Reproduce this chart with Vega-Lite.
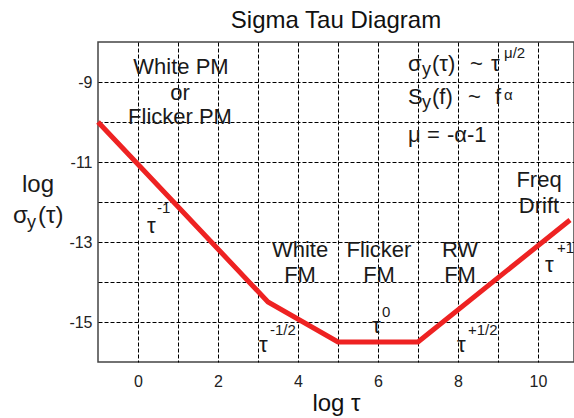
{
  "$schema": "https://vega.github.io/schema/vega-lite/v6.json",
  "width": 476,
  "height": 320,
  "autosize": {"type": "none"},
  "padding": {"left": 98, "top": 42, "right": 0, "bottom": 56},
  "background": "white",
  "title": {"text": "Sigma Tau Diagram", "fontSize": 24, "font": "Liberation Sans", "fontWeight": "normal", "color": "#111", "anchor": "middle", "offset": 9},
  "config": {
    "view": {"stroke": "#444", "strokeWidth": 1.5},
    "text": {"font": "Liberation Sans", "color": "#1a1a1a", "baseline": "alphabetic"}
  },
  "datasets": {
    "curve": [
      {"x": -1, "y": -10},
      {"x": 3.25, "y": -14.5},
      {"x": 5, "y": -15.5},
      {"x": 7, "y": -15.5},
      {"x": 10.8, "y": -12.45}
    ],
    "center22": [
      {"x": 1.075, "y": -8.8, "t": "White PM"},
      {"x": 1.05, "y": -9.45, "t": "or"},
      {"x": 1.05, "y": -10.05, "t": "Flicker PM"},
      {"x": 10.025, "y": -11.625, "t": "Freq"},
      {"x": 10.025, "y": -12.275, "t": "Drift"},
      {"x": 4.05, "y": -13.375, "t": "White"},
      {"x": 4.05, "y": -14.0, "t": "FM"},
      {"x": 6.025, "y": -13.375, "t": "Flicker"},
      {"x": 6.025, "y": -14.0, "t": "FM"},
      {"x": 8.05, "y": -13.375, "t": "RW"},
      {"x": 8.05, "y": -14.0, "t": "FM"}
    ],
    "left22": [
      {"x": 6.75, "y": -8.725, "t": "σ"},
      {"x": 7.35, "y": -8.725, "t": "(τ)"},
      {"x": 8.3, "y": -8.725, "t": "~"},
      {"x": 8.825, "y": -8.725, "t": "τ"},
      {"x": 6.75, "y": -9.55, "t": "S"},
      {"x": 7.35, "y": -9.55, "t": "(f)"},
      {"x": 8.25, "y": -9.55, "t": "~"},
      {"x": 8.925, "y": -9.55, "t": "f"},
      {"x": 6.75, "y": -10.5, "t": "μ"},
      {"x": 7.225, "y": -10.5, "t": "="},
      {"x": 7.725, "y": -10.5, "t": "-α-1"},
      {"x": 0.225, "y": -12.775, "t": "τ"},
      {"x": 3.025, "y": -15.75, "t": "τ"},
      {"x": 5.85, "y": -15.275, "t": "τ"},
      {"x": 7.975, "y": -15.75, "t": "τ"},
      {"x": 10.175, "y": -13.75, "t": "τ"}
    ],
    "sub": [
      {"x": 7.1, "y": -8.825, "t": "y"},
      {"x": 7.1, "y": -9.65, "t": "y"},
      {"x": -2.775, "y": -12.65, "t": "y"}
    ],
    "sup": [
      {"x": 9.15, "y": -8.4, "t": "μ/2"},
      {"x": 9.15, "y": -9.45, "t": "α"},
      {"x": 0.475, "y": -12.275, "t": "-1"},
      {"x": 3.3, "y": -15.325, "t": "-1/2"},
      {"x": 6.1, "y": -14.875, "t": "0"},
      {"x": 8.25, "y": -15.325, "t": "+1/2"},
      {"x": 10.475, "y": -13.275, "t": "+1"}
    ],
    "ylab": [
      {"x": -2.9, "y": -11.75, "t": "log"},
      {"x": -3.125, "y": -12.525, "t": "σ"},
      {"x": -2.5, "y": -12.525, "t": "(τ)"}
    ]
  },
  "encoding": {
    "x": {
      "field": "x", "type": "quantitative",
      "scale": {"domain": [-1, 10.9], "nice": false, "zero": false},
      "axis": {
        "title": "log τ", "titleFont": "Liberation Sans", "titleFontSize": 24, "titleFontWeight": "normal", "titleColor": "#111", "titlePadding": 2,
        "values": [0, 1, 2, 3, 4, 5, 6, 7, 8, 9, 10],
        "labelExpr": "datum.value % 2 == 0 ? datum.label : ''",
        "labelFont": "Liberation Sans", "labelFontSize": 16, "labelColor": "#222", "labelPadding": 11,
        "ticks": false, "tickSize": 0, "domain": false,
        "grid": true, "gridColor": "#000", "gridOpacity": 1, "gridDash": [4, 2], "gridWidth": 1
      }
    },
    "y": {
      "field": "y", "type": "quantitative",
      "scale": {"domain": [-16, -8], "nice": false, "zero": false},
      "axis": {
        "title": null,
        "values": [-15, -14, -13, -12, -11, -10, -9],
        "labelExpr": "abs(datum.value) % 2 == 1 ? '-' + abs(datum.value) : ''",
        "labelFont": "Liberation Sans", "labelFontSize": 16, "labelColor": "#222", "labelPadding": 6,
        "ticks": false, "tickSize": 0, "domain": false,
        "grid": true, "gridColor": "#000", "gridOpacity": 1, "gridDash": [4, 2], "gridWidth": 1
      }
    },
    "text": {"field": "t", "type": "nominal"}
  },
  "layer": [
    {"data": {"name": "curve"}, "mark": {"type": "line", "color": "#ee2222", "strokeWidth": 5, "strokeJoin": "miter"}, "encoding": {"text": null}},
    {"data": {"name": "center22"}, "mark": {"type": "text", "fontSize": 22, "align": "center"}},
    {"data": {"name": "left22"}, "mark": {"type": "text", "fontSize": 22, "align": "left"}},
    {"data": {"name": "sub"}, "mark": {"type": "text", "fontSize": 18, "align": "left"}},
    {"data": {"name": "sup"}, "mark": {"type": "text", "fontSize": 15, "align": "left"}},
    {"data": {"name": "ylab"}, "mark": {"type": "text", "fontSize": 24, "align": "left"}}
  ]
}
